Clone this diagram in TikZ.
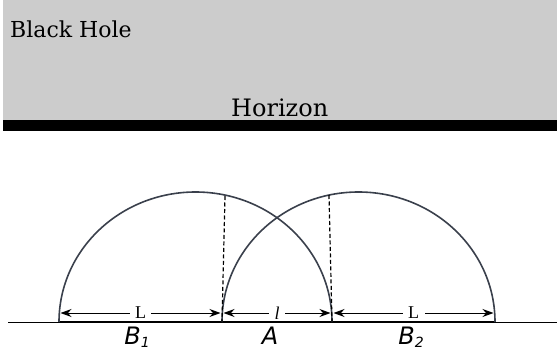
\documentclass[tikz,border=0pt]{standalone}
\usepackage{fontspec}
\usetikzlibrary{arrows.meta}
\newfontfamily\topfont{DejaVu Serif}
\newfontfamily\dimfont{Liberation Serif}
\newfontfamily\labfont{DejaVu Sans}
\definecolor{bandgray}{HTML}{CCCCCC}
\definecolor{arcgray}{HTML}{3A404C}
\tikzset{
  arcline/.style={draw=arcgray, line width=1.6pt},
  dimarrow/.style={draw=black, line width=0.9pt, {Stealth[length=11pt,width=8pt]}-{Stealth[length=11pt,width=8pt]}},
  dimlabel/.style={fill=white, inner xsep=5.5pt, inner ysep=2pt, font=\dimfont\fontsize{18}{18}\selectfont},
  guide/.style={draw=black, line width=1.2pt, dash pattern=on 4pt off 2.5pt},
  toptext/.style={anchor=base west, inner sep=0pt},
  seglabel/.style={anchor=base, inner sep=0pt, font=\labfont\itshape\fontsize{24}{24}\selectfont}
}
\newcommand{\segsub}[1]{\raisebox{-0.3ex}{\fontsize{14}{14}\selectfont #1}}
\begin{document}
\begin{tikzpicture}[x=1pt,y=-1pt]
\useasboundingbox (0,0) rectangle (557,351);
% black hole region
\fill[bandgray] (3,0) rectangle (557,120);
\fill[black] (3,120) rectangle (557,131);
\node[toptext, font=\topfont\fontsize{22}{22}\selectfont] (bh) at (10,37) {Black Hole};
\node[toptext, font=\topfont\fontsize{24}{24}\selectfont] (hz) at (231,116) {Horizon};
% baseline and segment points
\coordinate (lineL) at (8,322);
\coordinate (lineR) at (557,322);
\coordinate (b1l) at (59,322);
\coordinate (al) at (222,322);
\coordinate (ar) at (332,322);
\coordinate (b2r) at (495,322);
\draw[line width=1pt] (lineL) -- (lineR);
\draw[line width=1.6pt] (b1l) -- (al);
\draw[line width=1.6pt] (ar) -- (b2r);
\draw[line width=2.6pt] (al) -- (ar);
% arcs
\draw[arcline] (b1l) arc[start angle=180, end angle=0, x radius=136.5, y radius=-130];
\draw[arcline] (al) arc[start angle=180, end angle=0, x radius=136.5, y radius=-130];
% dashed guides
\coordinate (gl) at (225,196);
\coordinate (gr) at (329,195);
\draw[guide] (gl) -- (al);
\draw[guide] (gr) -- (ar);
% dimension arrows
\coordinate (d1a) at (60.5,313);
\coordinate (d1b) at (220.5,313);
\coordinate (d2a) at (223.5,313);
\coordinate (d2b) at (330.5,313);
\coordinate (d3a) at (333.5,313);
\coordinate (d3b) at (493.5,313);
\draw[dimarrow] (d1a) -- node[dimlabel] (lab1) {L} (d1b);
\draw[dimarrow] (d2a) -- node[dimlabel] (lab2) {\itshape l} (d2b);
\draw[dimarrow] (d3a) -- node[dimlabel] (lab3) {L} (d3b);
% segment labels
\node[seglabel] (B1) at (137,344) {B\segsub{1}};
\node[seglabel] (A) at (270,344) {A};
\node[seglabel] (B2) at (411,344) {B\segsub{2}};
\end{tikzpicture}
\end{document}
